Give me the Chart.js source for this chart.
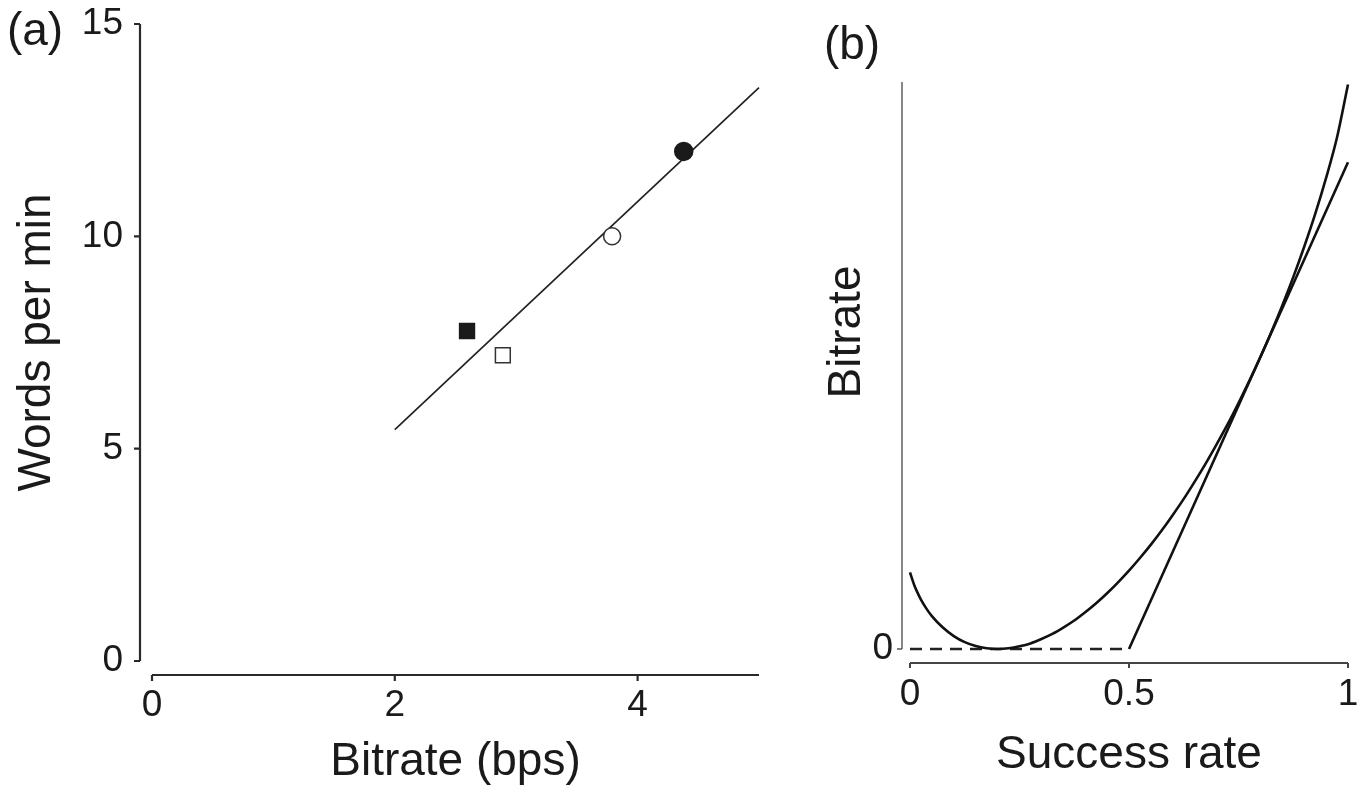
<!DOCTYPE html>
<html>
<head>
<meta charset="utf-8">
<script src="https://cdn.jsdelivr.net/npm/chart.js@4.4.1/dist/chart.umd.min.js"></script>
<style>
  html, body { margin: 0; padding: 0; background: #fff; }
  #wrap { position: relative; width: 1367px; height: 796px; }
  .panel { position: absolute; top: 0; height: 796px; }
  #panelA { left: 0; width: 780px; }
  #panelB { left: 780px; width: 587px; }
</style>
</head>
<body>
<div id="wrap">
  <div class="panel" id="panelA"><canvas id="chartA"></canvas></div>
  <div class="panel" id="panelB"><canvas id="chartB"></canvas></div>
</div>
<script>
// ---- panel (a): words per minute against bitrate
const bitrateA = [4.38, 3.79, 2.595, 2.89];
const wpmA = [12.0, 10.0, 7.77, 7.2];
const fitBitrate = [2, 5];
const fitWpm = [5.45, 13.5];
const xTicksA = [0, 2, 4];
const yTicksA = [0, 5, 10, 15];

// ---- panel (b): bitrate against success rate
const successRate = [0, 0.005, 0.01, 0.015, 0.025, 0.0375, 0.05, 0.075, 0.1, 0.125, 0.15, 0.175,
                     0.2, 0.225, 0.25, 0.275, 0.3, 0.325, 0.35, 0.375, 0.4, 0.425, 0.45, 0.475,
                     0.5, 0.525, 0.55, 0.575, 0.6, 0.625, 0.65, 0.675, 0.7, 0.725, 0.75,
                     0.775, 0.8, 0.825, 0.85, 0.875, 0.9, 0.925, 0.95, 0.975, 1];
const bitrateCurve = [0.315, 0.287, 0.261, 0.24, 0.203, 0.166, 0.135, 0.088, 0.053, 0.028, 0.012, 0.003,
                      0.0, 0.003, 0.011, 0.023, 0.041, 0.062, 0.088, 0.117, 0.151, 0.188, 0.229, 0.274,
                      0.322, 0.374, 0.429, 0.488, 0.551, 0.617, 0.688, 0.762, 0.841, 0.923, 1.011,
                      1.103, 1.2, 1.303, 1.412, 1.528, 1.653, 1.787, 1.936, 2.103, 2.32];
const lineRate = [0.5, 1];
const lineBitrate = [0, 2.0];
const floorRate = [0, 0.5];
const floorBitrate = [0, 0];
const xTicksB = [0, 0.5, 1];
const xTickLabelsB = ['0', '0.5', '1'];
const yTicksB = [0];

Chart.defaults.font.family = "'Liberation Sans', Arial, sans-serif";
Chart.defaults.color = '#1a1a1a';

const pts = (xs, ys) => xs.map((x, i) => ({ x, y: ys[i] }));
const fixTicks = (vals) => (scale) => { scale.ticks = vals.map(v => ({ value: v })); };

// axis lines drawn a little away from the plot area, R style
const detachedAxes = {
    id: 'detachedAxes',
    afterDraw(chart, args, o) {
        const { ctx, chartArea, scales: { x, y } } = chart;
        ctx.save();
        ctx.lineCap = 'butt';

        const ax = chartArea.left - o.yGap;
        ctx.strokeStyle = o.yColor;
        ctx.lineWidth = o.yWidth;
        ctx.beginPath();
        ctx.moveTo(ax, y.getPixelForValue(y.max));
        ctx.lineTo(ax, y.getPixelForValue(y.min));
        y.ticks.forEach(t => {
            const py = y.getPixelForValue(t.value);
            ctx.moveTo(ax, py);
            ctx.lineTo(ax - o.tick, py);
        });
        ctx.stroke();

        const ay = chartArea.bottom + o.xGap;
        ctx.strokeStyle = o.xColor;
        ctx.lineWidth = o.xWidth;
        ctx.beginPath();
        ctx.moveTo(x.getPixelForValue(x.min), ay);
        ctx.lineTo(x.getPixelForValue(x.max), ay);
        x.ticks.forEach(t => {
            const px = x.getPixelForValue(t.value);
            ctx.moveTo(px, ay);
            ctx.lineTo(px, ay + o.tick);
        });
        ctx.stroke();
        ctx.restore();
    }
};

// free text: panel tags and the rotated title of panel (b)
const freeText = {
    id: 'freeText',
    afterDraw(chart, args, o) {
        const { ctx } = chart;
        (o.items || []).forEach(it => {
            ctx.save();
            ctx.font = `${it.size}px 'Liberation Sans', Arial, sans-serif`;
            ctx.fillStyle = '#1a1a1a';
            ctx.textAlign = 'center';
            ctx.textBaseline = 'middle';
            ctx.translate(it.x, it.y);
            if (it.rotate) ctx.rotate(-Math.PI / 2);
            ctx.fillText(it.text, 0, 0);
            ctx.restore();
        });
    }
};

// fixed box sizes, no extra room for overflowing tick labels
const fitX = (h) => (s) => { s.height = h; s.paddingLeft = 0; s.paddingRight = 0; };
const fitY = (w) => (s) => { s.width = w; s.paddingTop = 0; s.paddingBottom = 0; };

const tickFont = { size: 37 };
const titleFont = { size: 46 };

new Chart(document.getElementById('chartA'), {
    type: 'scatter',
    data: {
        datasets: [
            {
                data: pts(bitrateA, wpmA),
                pointStyle: ['circle', 'circle', 'rect', 'rect'],
                pointRadius: [9, 8.5, 10.5, 10.5],
                pointBackgroundColor: ['#1a1a1a', '#ffffff', '#1a1a1a', '#ffffff'],
                pointBorderColor: ['#1a1a1a', '#333333', '#1a1a1a', '#333333'],
                pointBorderWidth: 1.5,
                clip: false
            },
            {
                data: pts(fitBitrate, fitWpm),
                showLine: true,
                borderColor: '#222',
                borderWidth: 1.7,
                pointRadius: 0,
                clip: false
            }
        ]
    },
    options: {
        responsive: true,
        maintainAspectRatio: false,
        animation: false,
        layout: { padding: { top: 24, right: 21, left: 0, bottom: 0 } },
        plugins: {
            legend: { display: false },
            tooltip: { enabled: false },
            detachedAxes: { yGap: 12, xGap: 14, tick: 6, yColor: '#2a2a2a', yWidth: 2.2, xColor: '#2a2a2a', xWidth: 2.2 },
            freeText: { items: [{ text: '(a)', x: 35, y: 32, size: 46 }] }
        },
        scales: {
            x: {
                type: 'linear', min: 0, max: 5,
                afterBuildTicks: fixTicks(xTicksA),
                afterFit: fitX(135),
                grid: { display: false, drawTicks: false },
                border: { display: false },
                ticks: { padding: 23, font: tickFont },
                title: { display: true, text: 'Bitrate (bps)', font: titleFont, padding: { top: 0, bottom: 6 } }
            },
            y: {
                type: 'linear', min: 0, max: 15,
                afterBuildTicks: fixTicks(yTicksA),
                afterFit: fitY(152),
                grid: { display: false, drawTicks: false },
                border: { display: false },
                ticks: { padding: 29, font: tickFont },
                title: { display: true, text: 'Words per min', font: titleFont, padding: { top: 10, bottom: 0 } }
            }
        }
    },
    plugins: [detachedAxes, freeText]
});

new Chart(document.getElementById('chartB'), {
    type: 'scatter',
    data: {
        datasets: [
            {
                data: pts(successRate, bitrateCurve),
                showLine: true,
                cubicInterpolationMode: 'monotone',
                borderColor: '#111',
                borderWidth: 2.6,
                pointRadius: 0,
                clip: false
            },
            {
                data: pts(lineRate, lineBitrate),
                showLine: true,
                borderColor: '#111',
                borderWidth: 2.6,
                pointRadius: 0,
                clip: false
            },
            {
                data: pts(floorRate, floorBitrate),
                showLine: true,
                borderColor: '#222',
                borderWidth: 2.4,
                borderDash: [12, 8],
                pointRadius: 0,
                clip: false
            }
        ]
    },
    options: {
        responsive: true,
        maintainAspectRatio: false,
        animation: false,
        layout: { padding: { top: 82, right: 19, left: 0, bottom: 0 } },
        plugins: {
            legend: { display: false },
            tooltip: { enabled: false },
            detachedAxes: { yGap: 8, xGap: 14, tick: 5, yColor: '#555', yWidth: 1.4, xColor: '#444', xWidth: 2 },
            freeText: {
                items: [
                    { text: '(b)', x: 72, y: 46, size: 46 },
                    { text: 'Bitrate', x: 67, y: 332, size: 46, rotate: true }
                ]
            }
        },
        scales: {
            x: {
                type: 'linear', min: 0, max: 1,
                afterBuildTicks: fixTicks(xTicksB),
                afterFit: fitX(147),
                grid: { display: false, drawTicks: false },
                border: { display: false },
                ticks: { padding: 24, font: tickFont, callback: (v, i) => xTickLabelsB[i] },
                title: { display: true, text: 'Success rate', font: titleFont, padding: { top: 0, bottom: 13 } }
            },
            y: {
                type: 'linear', min: 0, max: 2.33,
                afterBuildTicks: fixTicks(yTicksB),
                afterFit: fitY(130),
                grid: { display: false, drawTicks: false },
                border: { display: false },
                ticks: { padding: 17, font: tickFont }
            }
        }
    },
    plugins: [detachedAxes, freeText]
});
</script>
</body>
</html>
